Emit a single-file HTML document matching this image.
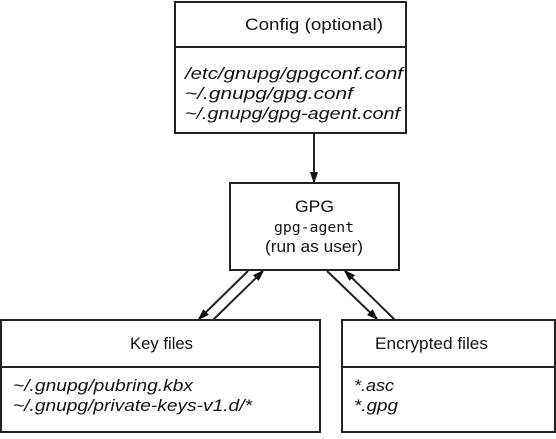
<!DOCTYPE html>
<html><head><style>
body{margin:0;width:556px;height:434px;background:#fff;overflow:hidden}
svg text{font-family:"Liberation Sans",sans-serif;fill:#111}
.h{font-size:17px}
.i{font-size:17px;font-style:italic}
</style></head><body>
<svg width="556" height="434" xmlns="http://www.w3.org/2000/svg">
<defs><marker id="a" markerWidth="10" markerHeight="8" refX="10" refY="4" orient="auto" markerUnits="userSpaceOnUse"><path d="M0,0 L12,4 L0,8 z" fill="#111"/></marker></defs>
<g fill="none" stroke="#222" stroke-width="2">
<rect x="175" y="2" width="231" height="131"/>
<line x1="175" y1="47" x2="406" y2="47"/>
<rect x="230" y="183" width="169" height="87"/>
<rect x="1" y="320" width="319" height="112"/>
<line x1="1" y1="367" x2="320" y2="367"/>
<rect x="342" y="320" width="213" height="112"/>
<line x1="342" y1="367" x2="555" y2="367"/>
<line x1="314" y1="134" x2="314" y2="182" marker-end="url(#a)"/>
<line x1="248" y1="271" x2="199" y2="319" marker-end="url(#a)"/>
<line x1="213" y1="320" x2="263" y2="271" marker-end="url(#a)"/>
<line x1="327" y1="271" x2="377" y2="319" marker-end="url(#a)"/>
<line x1="395" y1="320" x2="345" y2="271" marker-end="url(#a)"/>
</g>
<text class="h" x="245" y="30" textLength="138" lengthAdjust="spacingAndGlyphs">Config (optional)</text>
<text class="i" x="185" y="79" textLength="218" lengthAdjust="spacingAndGlyphs">/etc/gnupg/gpgconf.conf</text>
<text class="i" x="185" y="99" textLength="168" lengthAdjust="spacingAndGlyphs">~/.gnupg/gpg.conf</text>
<text class="i" x="185" y="119" textLength="215" lengthAdjust="spacingAndGlyphs">~/.gnupg/gpg-agent.conf</text>
<text class="h" x="295" y="212" textLength="39" lengthAdjust="spacingAndGlyphs">GPG</text>
<text x="274" y="232" textLength="80" lengthAdjust="spacingAndGlyphs" style="font-family:'DejaVu Sans Mono',monospace;font-size:14px">gpg-agent</text>
<text class="h" x="265" y="252" textLength="98" lengthAdjust="spacingAndGlyphs">(run as user)</text>
<text class="h" x="130" y="349" textLength="63" lengthAdjust="spacingAndGlyphs">Key files</text>
<text class="i" x="13" y="391" textLength="180" lengthAdjust="spacingAndGlyphs">~/.gnupg/pubring.kbx</text>
<text class="i" x="13" y="411" textLength="239" lengthAdjust="spacingAndGlyphs">~/.gnupg/private-keys-v1.d/*</text>
<text class="h" x="375" y="349" textLength="113" lengthAdjust="spacingAndGlyphs">Encrypted files</text>
<text class="i" x="354" y="391" textLength="40" lengthAdjust="spacingAndGlyphs">*.asc</text>
<text class="i" x="354" y="411" textLength="44" lengthAdjust="spacingAndGlyphs">*.gpg</text>
</svg>
</body></html>
